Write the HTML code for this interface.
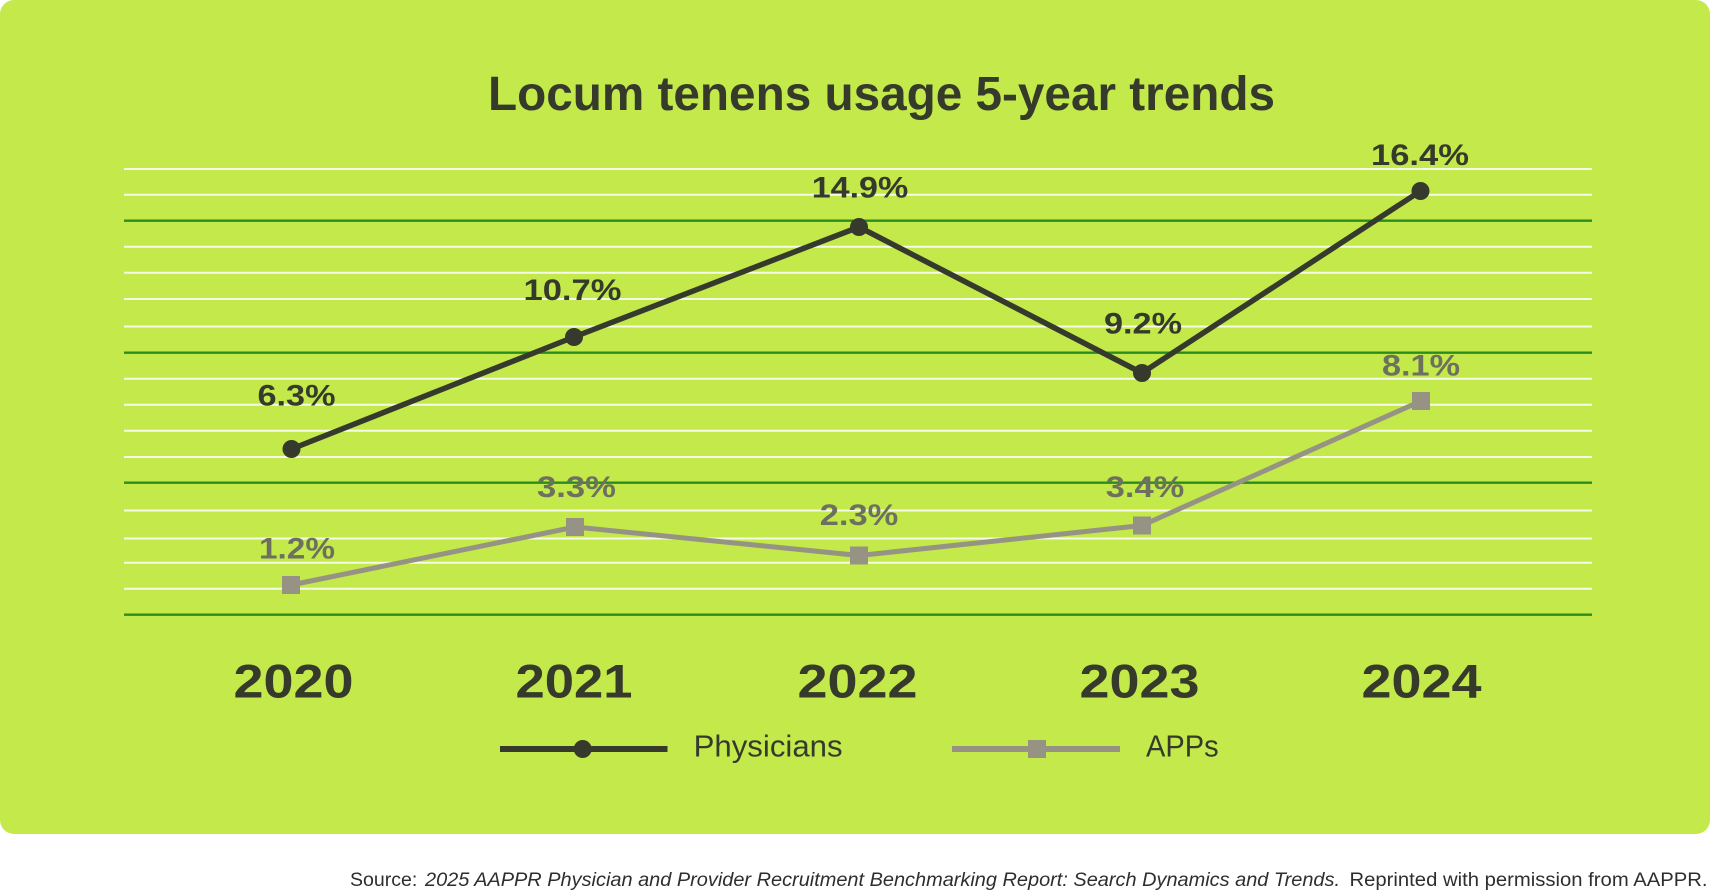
<!DOCTYPE html>
<html>
<head>
<meta charset="utf-8">
<style>
  html, body { margin: 0; padding: 0; background: #ffffff; }
  body { width: 1712px; height: 894px; overflow: hidden; }
  svg { display: block; }
  text { font-family: "Liberation Sans", "DejaVu Sans", sans-serif; }
</style>
</head>
<body>
<svg width="1712" height="894" viewBox="0 0 1712 894" xmlns="http://www.w3.org/2000/svg">
  <rect x="0" y="0" width="1712" height="894" fill="#ffffff"/>
  <rect x="0" y="0" width="1710" height="834" rx="14" ry="14" fill="#c3e94b"/>

  <!-- Title -->
  <text x="488" y="110" font-size="48" font-weight="bold" fill="#353a2b" textLength="787" lengthAdjust="spacingAndGlyphs">Locum tenens usage 5-year trends</text>

  <!-- Gridlines -->
  <g stroke="#f6fbe8" stroke-width="2">
    <line x1="124" y1="169" x2="1592" y2="169"/>
    <line x1="124" y1="194.7" x2="1592" y2="194.7"/>
    <line x1="124" y1="246.7" x2="1592" y2="246.7"/>
    <line x1="124" y1="272.7" x2="1592" y2="272.7"/>
    <line x1="124" y1="299" x2="1592" y2="299"/>
    <line x1="124" y1="326.5" x2="1592" y2="326.5"/>
    <line x1="124" y1="378.7" x2="1592" y2="378.7"/>
    <line x1="124" y1="404.7" x2="1592" y2="404.7"/>
    <line x1="124" y1="430.7" x2="1592" y2="430.7"/>
    <line x1="124" y1="457" x2="1592" y2="457"/>
    <line x1="124" y1="510.5" x2="1592" y2="510.5"/>
    <line x1="124" y1="538.5" x2="1592" y2="538.5"/>
    <line x1="124" y1="562.7" x2="1592" y2="562.7"/>
    <line x1="124" y1="588.7" x2="1592" y2="588.7"/>
  </g>
  <g stroke="#2a8d1d" stroke-width="2.4">
    <line x1="124" y1="220.7" x2="1592" y2="220.7"/>
    <line x1="124" y1="352.7" x2="1592" y2="352.7"/>
    <line x1="124" y1="482.7" x2="1592" y2="482.7"/>
    <line x1="124" y1="614.7" x2="1592" y2="614.7"/>
  </g>

  <!-- APPs series -->
  <polyline points="291,585 575,527 859,555.5 1142,525.5 1421,401" fill="none" stroke="#979384" stroke-width="5" stroke-linejoin="round"/>
  <g fill="#979384">
    <rect x="282" y="576" width="18" height="18"/>
    <rect x="566" y="518" width="18" height="18"/>
    <rect x="850" y="546.5" width="18" height="18"/>
    <rect x="1133" y="516.5" width="18" height="18"/>
    <rect x="1412" y="392" width="18" height="18"/>
  </g>

  <!-- Physicians series -->
  <polyline points="291.5,449 574,337 859,227 1142,373 1420.5,191" fill="none" stroke="#363a2c" stroke-width="5.5" stroke-linejoin="round"/>
  <g fill="#363a2c">
    <circle cx="291.5" cy="449" r="9"/>
    <circle cx="574" cy="337" r="9"/>
    <circle cx="859" cy="227" r="9"/>
    <circle cx="1142" cy="373" r="9"/>
    <circle cx="1420.5" cy="191" r="9"/>
  </g>

  <!-- Physician labels -->
  <g font-size="30" font-weight="bold" fill="#353a2b" text-anchor="middle">
    <text x="296.5" y="405.5" textLength="78" lengthAdjust="spacingAndGlyphs">6.3%</text>
    <text x="572.5" y="300" textLength="98" lengthAdjust="spacingAndGlyphs">10.7%</text>
    <text x="860" y="197.5" textLength="96.5" lengthAdjust="spacingAndGlyphs">14.9%</text>
    <text x="1143" y="333.5" textLength="78" lengthAdjust="spacingAndGlyphs">9.2%</text>
    <text x="1420" y="165" textLength="98" lengthAdjust="spacingAndGlyphs">16.4%</text>
  </g>

  <!-- APP labels -->
  <g font-size="30" font-weight="bold" fill="#6e705f" text-anchor="middle">
    <text x="297" y="558.5" textLength="76" lengthAdjust="spacingAndGlyphs">1.2%</text>
    <text x="576.5" y="497" textLength="79" lengthAdjust="spacingAndGlyphs">3.3%</text>
    <text x="859" y="525" textLength="78.5" lengthAdjust="spacingAndGlyphs">2.3%</text>
    <text x="1145" y="497" textLength="78.5" lengthAdjust="spacingAndGlyphs">3.4%</text>
    <text x="1421" y="375.5" textLength="78" lengthAdjust="spacingAndGlyphs">8.1%</text>
  </g>

  <!-- Year labels -->
  <g font-size="47" font-weight="bold" fill="#353a2b" text-anchor="middle">
    <text x="293.5" y="697.5" textLength="120" lengthAdjust="spacingAndGlyphs">2020</text>
    <text x="574" y="697.5" textLength="117" lengthAdjust="spacingAndGlyphs">2021</text>
    <text x="857.5" y="697.5" textLength="120" lengthAdjust="spacingAndGlyphs">2022</text>
    <text x="1139.5" y="697.5" textLength="120" lengthAdjust="spacingAndGlyphs">2023</text>
    <text x="1421.5" y="697.5" textLength="120" lengthAdjust="spacingAndGlyphs">2024</text>
  </g>

  <!-- Legend -->
  <line x1="500" y1="749" x2="667.5" y2="749" stroke="#363a2c" stroke-width="6"/>
  <circle cx="582.7" cy="749" r="9" fill="#363a2c"/>
  <text x="693.6" y="756.3" font-size="31" fill="#353a2b" textLength="149" lengthAdjust="spacingAndGlyphs">Physicians</text>

  <line x1="952" y1="749" x2="1120" y2="749" stroke="#979384" stroke-width="6"/>
  <rect x="1028" y="740" width="18" height="18" fill="#979384"/>
  <text x="1146" y="756.3" font-size="31" fill="#353a2b" textLength="72.6" lengthAdjust="spacingAndGlyphs">APPs</text>

  <!-- Source -->
  <g font-size="19" fill="#2e2e2e">
    <text x="350" y="886" textLength="67.3" lengthAdjust="spacingAndGlyphs">Source:</text>
    <text x="425" y="886" font-style="italic" textLength="915" lengthAdjust="spacingAndGlyphs">2025 AAPPR Physician and Provider Recruitment Benchmarking Report: Search Dynamics and Trends.</text>
    <text x="1349.5" y="886" textLength="358" lengthAdjust="spacingAndGlyphs">Reprinted with permission from AAPPR.</text>
  </g>
</svg>
</body>
</html>
